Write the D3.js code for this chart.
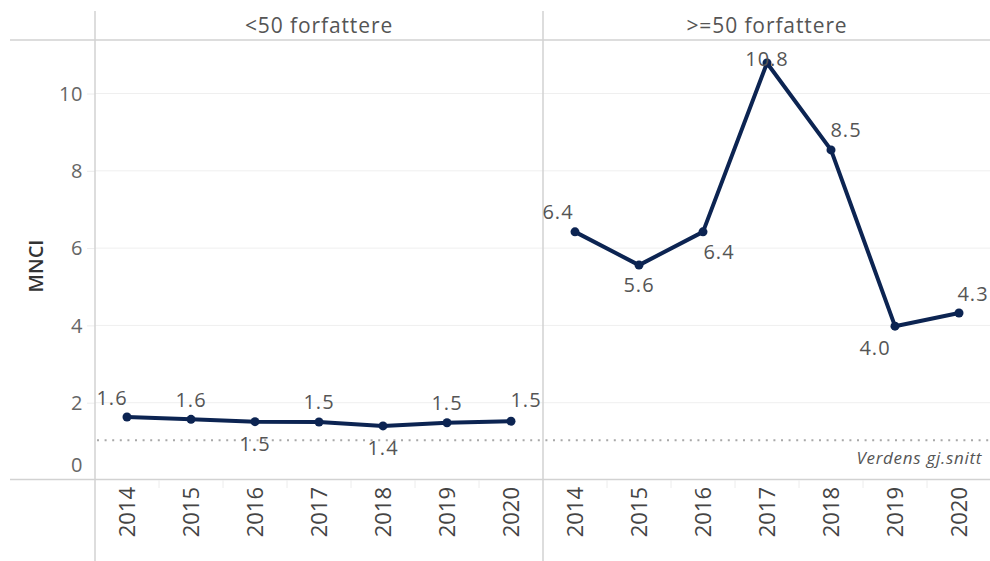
<html>
<head>
<meta charset="utf-8">
<title>MNCI</title>
<script src="https://cdn.jsdelivr.net/npm/d3@7"></script>
<style>
  body { margin: 0; background: #fff; }
  text { font-family: "Open Sans", "Noto Sans", sans-serif; }
</style>
</head>
<body>
<svg id="chart"></svg>
<script>
'use strict';

// data
const years = [2014, 2015, 2016, 2017, 2018, 2019, 2020];
const panelNames = ["<50 forfattere", ">=50 forfattere"];
const mnciUnder50 = [1.63, 1.57, 1.51, 1.50, 1.40, 1.48, 1.52];
const mnciOver50 = [6.42, 5.56, 6.42, 10.79, 8.54, 3.98, 4.32];
const worldAverage = 1.03;
const yTicks = [0, 2, 4, 6, 8, 10];

// where each value label sits relative to its point
const labelOffsetUnder50 = [[-15, -19], [0, -20], [0, 22], [0, -20], [0, 22], [0, -20], [15, -21]];
const labelOffsetOver50 = [[-17, -20], [0, 20], [16, 20], [0, -4], [15, -20], [-20, 22], [14, -19]];

const W = 990, H = 561;
const left = 95, mid = 543, right = 991;
const headerY = 40, baseY = 480;
const lineCol = "#d2d2d2";
const navy = "#0c2452";

const svg = d3.select("#chart").attr("width", W).attr("height", H);

const y = d3.scaleLinear().domain([0, 10]).range([baseY, 93.5]);

// light gridlines
svg.append("g")
  .selectAll("line")
  .data(yTicks.filter(d => d > 0))
  .join("line")
  .attr("x1", left).attr("x2", W)
  .attr("y1", d => y(d)).attr("y2", d => y(d))
  .attr("stroke", "#efefef").attr("stroke-width", 1);

// y axis
const yAxis = svg.append("g")
  .attr("transform", `translate(${left},0)`)
  .call(d3.axisLeft(y).tickValues(yTicks).tickSize(8).tickPadding(4));
yAxis.select(".domain").remove();
yAxis.selectAll(".tick line").attr("stroke", "#ececec");
yAxis.selectAll(".tick text")
  .attr("font-size", 20)
  .attr("fill", "#666")
  .attr("font-family", "Open Sans")
  .attr("letter-spacing", 0.6)
  .attr("dy", d => d === 0 ? "-0.45em" : "0.34em");
yAxis.selectAll(".tick").filter(d => d === 0).select("line").remove();

// axis title
svg.append("text")
  .attr("transform", `translate(43,${(headerY + baseY) / 2 + 6}) rotate(-90)`)
  .attr("text-anchor", "middle")
  .attr("font-size", 20)
  .attr("font-weight", 600)
  .attr("fill", "#333")
  .text("MNCI");

// frame lines
svg.append("line").attr("x1", 10).attr("x2", W).attr("y1", headerY).attr("y2", headerY)
  .attr("stroke", lineCol).attr("stroke-width", 1.5);
svg.append("line").attr("x1", 10).attr("x2", W).attr("y1", baseY - 0.5).attr("y2", baseY - 0.5)
  .attr("stroke", lineCol).attr("stroke-width", 1.5);
[left, mid].forEach(xv => {
  svg.append("line").attr("x1", xv).attr("x2", xv).attr("y1", 11).attr("y2", H)
    .attr("stroke", lineCol).attr("stroke-width", 1.5);
});

// world average dotted line
svg.append("line")
  .attr("x1", left + 2).attr("x2", W)
  .attr("y1", y(worldAverage)).attr("y2", y(worldAverage))
  .attr("stroke", "#a8a8a8").attr("stroke-width", 2)
  .attr("stroke-dasharray", "2,5.6");
svg.append("text")
  .attr("x", 982).attr("y", y(worldAverage) + 24)
  .attr("text-anchor", "end")
  .attr("font-size", 17)
  .attr("letter-spacing", 0.7)
  .attr("font-style", "italic")
  .attr("fill", "#555")
  .text("Verdens gj.snitt");

const panels = [
  { name: panelNames[0], values: mnciUnder50, offsets: labelOffsetUnder50, range: [left, mid] },
  { name: panelNames[1], values: mnciOver50, offsets: labelOffsetOver50, range: [mid, right] }
];

panels.forEach(p => {
  const x = d3.scaleBand().domain(years).range(p.range);
  const cx = d => x(d) + x.bandwidth() / 2;
  const pts = years.map((yr, i) => ({ year: yr, v: p.values[i], off: p.offsets[i] }));

  // header
  svg.append("text")
    .attr("x", (p.range[0] + p.range[1]) / 2)
    .attr("y", 33)
    .attr("text-anchor", "middle")
    .attr("font-size", 21)
    .attr("letter-spacing", 0.9)
    .attr("fill", "#555")
    .text(p.name);

  // x axis
  const xAxis = svg.append("g")
    .attr("transform", `translate(0,${baseY})`)
    .call(d3.axisBottom(x).tickSize(0));
  xAxis.select(".domain").remove();
  xAxis.selectAll(".tick text")
    .attr("transform", "rotate(-90)")
    .attr("text-anchor", "end")
    .attr("x", -7)
    .attr("y", 0)
    .attr("dy", "0.36em")
    .attr("font-size", 22)
    .attr("font-family", "Liberation Sans, Arial, sans-serif")
    .attr("fill", "#444");

  // band boundary ticks
  svg.append("g")
    .selectAll("line")
    .data(years.slice(1))
    .join("line")
    .attr("x1", d => x(d)).attr("x2", d => x(d))
    .attr("y1", baseY).attr("y2", baseY + 8)
    .attr("stroke", "#ececec");

  // the line
  const line = d3.line().x(d => cx(d.year)).y(d => y(d.v));
  svg.append("path")
    .datum(pts)
    .attr("d", line)
    .attr("fill", "none")
    .attr("stroke", navy)
    .attr("stroke-width", 4)
    .attr("stroke-linejoin", "round");

  svg.append("g")
    .selectAll("circle")
    .data(pts)
    .join("circle")
    .attr("cx", d => cx(d.year))
    .attr("cy", d => y(d.v))
    .attr("r", 4.5)
    .attr("fill", navy);

  // value labels
  svg.append("g")
    .selectAll("text")
    .data(pts)
    .join("text")
    .attr("x", d => cx(d.year) + d.off[0])
    .attr("y", d => y(d.v) + d.off[1])
    .attr("dy", "0.36em")
    .attr("text-anchor", "middle")
    .attr("font-size", 20)
    .attr("letter-spacing", 1)
    .attr("fill", "#555")
    .text(d => d3.format(".1f")(d.v));
});
</script>
</body>
</html>
